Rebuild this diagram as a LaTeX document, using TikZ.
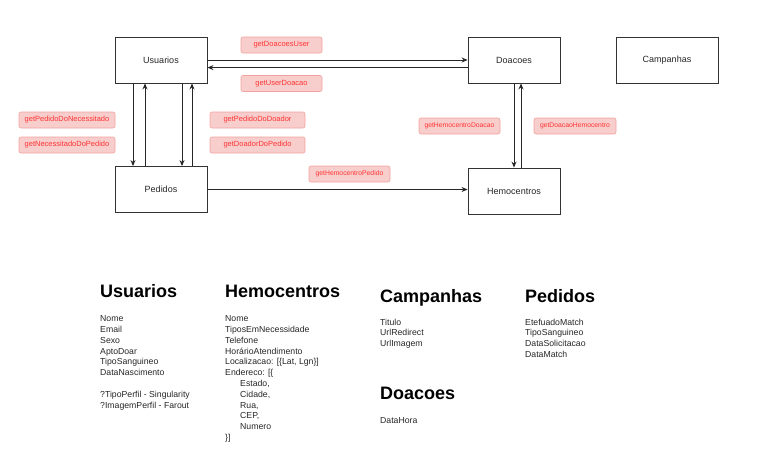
\documentclass[tikz,border=0pt]{standalone}
\usepackage{fontspec}
\setmainfont{Liberation Sans}
\usetikzlibrary{arrows.meta}
\definecolor{lblfill}{HTML}{F8CECC}
\definecolor{lbldraw}{HTML}{F0A3A0}
\definecolor{lbltext}{HTML}{FF3333}
\definecolor{boxdraw}{HTML}{333333}
\tikzset{
  ent/.style={draw=boxdraw, line width=0.9pt, fill=white, minimum width=92pt, minimum height=46pt, inner sep=0pt, font=\fontsize{9}{10}\selectfont, text=black!85},
  lbl/.style={draw=lbldraw, fill=lblfill, rounded corners=2pt, line width=0.6pt, minimum height=16pt, inner sep=0pt, font=\fontsize{7.5}{8}\selectfont, text=lbltext},
  smalllbl/.style={lbl, font=\fontsize{6.8}{8}\selectfont},
  arr/.style={draw=black!85, line width=0.8pt, -{Stealth[length=6pt,width=5pt]}},
  head/.style={anchor=base west, inner sep=0pt, font=\fontsize{18}{20}\selectfont\bfseries},
  body/.style={anchor=north west, inner sep=0pt, align=left, font=\fontsize{8.7}{10.8}\selectfont, text=black!85},
}
\begin{document}
\begin{tikzpicture}[x=1pt,y=-1pt]
\useasboundingbox (0,0) rectangle (774,471);
% entity boxes
\node[ent] (usu) at (161,60) {Usuarios};
\node[ent] (ped) at (161,189.5) {Pedidos};
\node[ent] (doa) at (514,60) {Doacoes};
\node[ent] (hem) at (514,191) {Hemocentros};
\node[ent, minimum width=102pt] (cam) at (667,60) {Campanhas};
% connectors
\draw[arr] (usu.east) -- (doa.west);
\draw[arr] ([yshift=-7.6pt]doa.west) -- ([yshift=-7.6pt]usu.east);
\draw[arr] ([xshift=-28pt]usu.south) -- ([xshift=-28pt]ped.north);
\draw[arr] ([xshift=-16pt]ped.north) -- ([xshift=-16pt]usu.south);
\draw[arr] ([xshift=21pt]usu.south) -- ([xshift=21pt]ped.north);
\draw[arr] ([xshift=31pt]ped.north) -- ([xshift=31pt]usu.south);
\draw[arr] (ped.east) -- (ped.east -| hem.west);
\draw[arr] (doa.south) -- (hem.north);
\draw[arr] ([xshift=7pt]hem.north) -- ([xshift=7pt]doa.south);
% labels
\node[lbl, minimum width=81pt] (l1) at (281.5,45) {getDoacoesUser};
\node[lbl, minimum width=81pt] (l2) at (281.5,83.5) {getUserDoacao};
\node[lbl, minimum width=96pt] (l3) at (67,120) {getPedidoDoNecessitado};
\node[lbl, minimum width=96pt] (l4) at (67,145) {getNecessitadoDoPedido};
\node[lbl, minimum width=95pt] (l5) at (257.5,120) {getPedidoDoDoador};
\node[lbl, minimum width=95pt] (l6) at (257.5,145) {getDoadorDoPedido};
\node[smalllbl, minimum width=81pt] (l7) at (349.5,174) {getHemocentroPedido};
\node[smalllbl, minimum width=81pt] (l8) at (459.5,126) {getHemocentroDoacao};
\node[smalllbl, minimum width=82pt] (l9) at (575,126) {getDoacaoHemocentro};
% schema text
\node[head] (hu) at (100,297) {Usuarios};
\node[body] (bu) at (100,315.5) {Nome\\Email\\Sexo\\AptoDoar\\TipoSanguineo\\DataNascimento\\[10.8pt]?TipoPerfil - Singularity\\?ImagemPerfil - Farout};
\node[head] (hh) at (225,297) {Hemocentros};
\node[body] (bh) at (225,315.5) {Nome\\TiposEmNecessidade\\Telefone\\HorárioAtendimento\\Localizacao: [\{Lat, Lgn\}]\\Endereco: [\{\\\hspace*{15pt}Estado,\\\hspace*{15pt}Cidade,\\\hspace*{15pt}Rua,\\\hspace*{15pt}CEP,\\\hspace*{15pt}Numero\\\}]};
\node[head] (hc) at (380,302) {Campanhas};
\node[body] (bc) at (380,318.5) {Titulo\\UrlRedirect\\UrlImagem};
\node[head] (hp) at (525,302) {Pedidos};
\node[body] (bp) at (525,318.5) {EtefuadoMatch\\TipoSanguineo\\DataSolicitacao\\DataMatch};
\node[head] (hd) at (380,399) {Doacoes};
\node[body] (bd) at (380,417.5) {DataHora};
\end{tikzpicture}
\end{document}
